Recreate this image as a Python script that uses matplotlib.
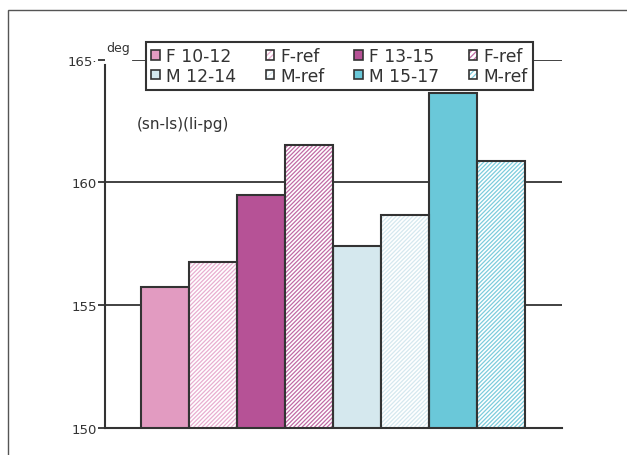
import matplotlib.pyplot as plt
from matplotlib.patches import Rectangle, Patch
from matplotlib.legend_handler import HandlerTuple

# bar data (left to right)
labels = ['F 10-12', 'F-ref', 'F 13-15', 'F-ref', 'M 12-14', 'M-ref', 'M 15-17', 'M-ref']
values = [155.75, 156.77, 159.49, 161.54, 157.39, 158.67, 163.64, 160.86]
face = ['#e29bc1', '#ffffff', '#b65296', '#ffffff', '#d5e8ee', '#ffffff', '#6ac8d9', '#ffffff']
hatch_col = [None, '#e8aed0', None, '#c06aa5', None, '#d5e8ef', None, '#7cccdc']
yticks = [150, 155, 160, 165]

edge = '#333333'
plt.rcParams['hatch.linewidth'] = 0.9

fig = plt.figure(figsize=(6.27, 4.56), dpi=100)
W, H = 627, 456

# outer frame (only top/left visible in the reference)
fig.patches.append(Rectangle((8 / W, -0.1), 1.2, (H - 11) / H + 0.1, transform=fig.transFigure,
                             fill=False, edgecolor='#555555', linewidth=1.0))

ax = fig.add_axes([105 / W, 27.3 / H, 457 / W, 368 / H])
x = list(range(len(values)))
ax.set_xlim(-1.25, 8.27)
ax.set_ylim(150, 165)

# grid lines at 155, 160 and the top one partly hidden by the legend
for v in [155, 160]:
    ax.axhline(v, color=edge, linewidth=1.3, zorder=1)
ax.axhline(165, xmin=28 / 457, color=edge, linewidth=1.3, zorder=1)

handles = []
for i, v in enumerate(values):
    if hatch_col[i] is None:
        ax.bar(x[i], v - 150, bottom=150, width=1.0, color=face[i],
               edgecolor=edge, linewidth=1.5, zorder=3)
        handles.append(Patch(facecolor=face[i], edgecolor=edge, linewidth=1.2))
    else:
        ax.bar(x[i], v - 150, bottom=150, width=1.0, color=face[i],
               edgecolor=hatch_col[i], hatch='////////', linewidth=0, zorder=3)
        ax.bar(x[i], v - 150, bottom=150, width=1.0, fill=False,
               edgecolor=edge, linewidth=1.5, zorder=4)
        handles.append((Patch(facecolor='white', edgecolor=hatch_col[i], hatch='//////', linewidth=0),
                        Patch(fill=False, edgecolor=edge, linewidth=1.2)))

for s in ['top', 'right']:
    ax.spines[s].set_visible(False)
for s in ['left', 'bottom']:
    ax.spines[s].set_color(edge)
    ax.spines[s].set_linewidth(1.5)
ax.spines['left'].set_bounds(150, 164.8)

ax.set_xticks([])
ax.set_yticks(yticks)
ax.set_yticklabels(['150', '155', '160', '165·'])
ax.tick_params(axis='y', length=5, width=1.3, color=edge, labelsize=9.5,
               labelcolor='#333333', pad=1)

ax.text(-1.22, 165.25, 'deg', fontsize=9, color='#333333', va='bottom', ha='left')
ax.text(-0.58, 162.4, '(sn-ls)(li-pg)', fontsize=11, color='#333333', va='center', ha='left')

order = [0, 4, 1, 5, 2, 6, 3, 7]
leg = ax.legend([handles[k] for k in order], [labels[k] for k in order], ncol=4,
                loc='upper left', bbox_to_anchor=(41 / 457, 1 + 17.5 / 368),
                handler_map={tuple: HandlerTuple(ndivide=1, pad=0)},
                frameon=True, fancybox=False,
                fontsize=12.3, handlelength=0.5, handleheight=0.5, handletextpad=0.35,
                columnspacing=1.75, labelspacing=0.08, borderpad=0.3, borderaxespad=0)
leg.get_frame().set_edgecolor(edge)
leg.get_frame().set_linewidth(1.5)
leg.get_frame().set_alpha(1)
leg.set_zorder(10)
for t in leg.get_texts():
    t.set_color('#333333')

fig.savefig('out.png', dpi=100)
